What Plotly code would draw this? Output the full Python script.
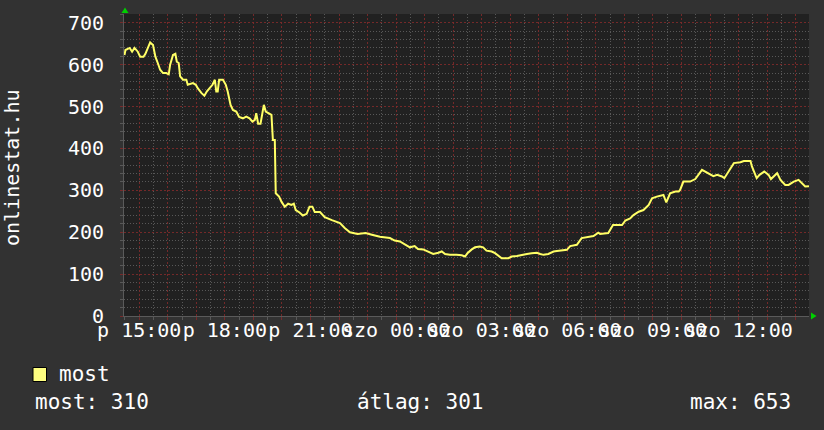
import plotly.graph_objects as go
import pandas as pd

# ---------------- data ----------------
start_time = "2011-03-04 14:28"   # Friday (p) 14:28
end_time = "2011-03-05 14:28"     # Saturday (szo) 14:28

# minutes after start_time
minutes = [1, 3, 12, 17, 22, 29, 34, 41, 45, 50, 55, 61, 66, 71, 76, 82, 89, 94, 97, 103,
           108, 111, 115, 118, 124, 131, 134, 145, 151, 155, 163, 169, 174, 180, 186, 191, 194, 197, 200, 208,
           214, 218, 224, 229, 236, 242, 250, 257, 264, 270, 275, 278, 282, 287, 291, 294, 298, 305, 310, 313,
           317, 319, 326, 331, 338, 345, 352, 357, 361, 369, 376, 384, 390, 396, 401, 412, 422, 437, 454, 464,
           475, 491, 508, 521, 533, 538, 559, 569, 580, 590, 601, 611, 618, 629, 640, 650, 661, 668, 675, 685,
           699, 710, 717, 722, 731, 738, 748, 755, 762, 773, 780, 787, 794, 808, 815, 826, 836, 847, 857, 868,
           875, 882, 892, 903, 910, 920, 931, 938, 952, 962, 973, 987, 997, 1001, 1018, 1028, 1047, 1054, 1064, 1071,
           1082, 1092, 1103, 1110, 1120, 1134, 1140, 1148, 1159, 1166, 1169, 1176, 1190, 1201, 1215, 1226, 1239, 1247, 1257, 1262,
           1271, 1282, 1296, 1303, 1317, 1320, 1330, 1336, 1346, 1355, 1360, 1367, 1373, 1380, 1390, 1397, 1408, 1418, 1425, 1432,
           1440]
most = [623, 635, 640, 631, 640, 631, 619, 619, 626, 640, 653, 647, 619, 604, 588, 580, 580, 577, 600, 623,
        626, 607, 604, 572, 564, 564, 552, 556, 552, 544, 532, 526, 536, 544, 552, 564, 536, 536, 564, 564,
        552, 536, 504, 492, 488, 475, 472, 476, 472, 464, 468, 484, 459, 459, 492, 504, 488, 484, 480, 420,
        420, 293, 285, 273, 261, 268, 265, 268, 253, 247, 240, 244, 261, 261, 248, 248, 236, 229, 222, 210,
        200, 196, 198, 194, 191, 189, 186, 180, 178, 172, 164, 167, 160, 159, 154, 148, 151, 154, 148, 146,
        146, 145, 142, 150, 159, 164, 166, 164, 156, 154, 150, 143, 138, 138, 142, 143, 146, 148, 150, 151,
        148, 146, 148, 154, 155, 156, 158, 167, 170, 186, 188, 191, 199, 196, 198, 217, 217, 228, 233, 241,
        249, 253, 265, 281, 285, 289, 271, 293, 297, 297, 301, 321, 321, 327, 349, 342, 334, 337, 333, 329,
        345, 365, 367, 370, 370, 357, 329, 337, 345, 337, 327, 334, 341, 325, 313, 313, 321, 325, 318, 309,
        310]

tick_times = ["2011-03-04 15:00", "2011-03-04 18:00", "2011-03-04 21:00", "2011-03-05 00:00",
              "2011-03-05 03:00", "2011-03-05 06:00", "2011-03-05 09:00", "2011-03-05 12:00"]
tick_labels = ["p 15:00", "p 18:00", "p 21:00", "szo 00:00",
               "szo 03:00", "szo 06:00", "szo 09:00", "szo 12:00"]
y_max = 721
y_title = "onlinestat.hu"
series_name = "most"
stat_texts = ["most: 310", "átlag: 301", "max: 653"]

times = pd.Timestamp(start_time) + pd.to_timedelta(minutes, unit="m")

# ---------------- layout constants ----------------
W, H = 824, 430
L, R, T, B = 124, 15, 14, 114
PW, PH = W - L - R, H - T - B
FONT = "DejaVu Sans Mono"
BG = "#323232"
CANVAS = "#212121"
MAJOR = "rgba(125,42,42,0.9)"
MINOR = "#585858"
LINE_COL = "#ffff66"


def px(x):
    return (x - L) / PW


def py(y):
    return (H - B - y) / PH


fig = go.Figure()
# dummy trace to keep the base (grid) axes alive
fig.add_trace(go.Scatter(x=[times[0]], y=[None], xaxis="x", yaxis="y",
                         showlegend=False, hoverinfo="skip", mode="lines"))
fig.add_trace(go.Scatter(x=times, y=most, name=series_name, xaxis="x2", yaxis="y",
                         mode="lines", line=dict(color=LINE_COL, width=2),
                         showlegend=False))

fig.update_layout(
    width=W, height=H,
    margin=dict(l=L, r=R, t=T, b=B, autoexpand=False),
    paper_bgcolor=BG, plot_bgcolor=CANVAS,
    font=dict(family=FONT, size=20, color="#ffffff"),
    xaxis=dict(type="date", range=[start_time, end_time], automargin=False,
               showgrid=True, gridcolor=MAJOR, griddash="2px,2px", gridwidth=1,
               tick0="2011-03-04 15:00", dtick=3600000,
               showticklabels=False, ticks="outside", ticklen=3, tickcolor=MAJOR,
               minor=dict(dtick=1800000, tick0="2011-03-04 14:30", showgrid=True,
                          gridcolor=MINOR, griddash="1px,2px", ticks="outside",
                          ticklen=3, tickcolor=MINOR),
               showline=True, linecolor="#5a5a5a", zeroline=False, fixedrange=True),
    xaxis2=dict(type="date", range=[start_time, end_time], overlaying="x", anchor="y",
                side="bottom", tickmode="array", tickvals=tick_times, ticktext=tick_labels,
                tickangle=0, showgrid=False, ticks="", showline=False, zeroline=False,
                automargin=False,
                tickfont=dict(family=FONT, size=20, color="#ffffff"),
                ticklabelstandoff=0),
    yaxis=dict(range=[0, y_max], tick0=0, dtick=100, automargin=False,
               showgrid=True, gridcolor=MAJOR, griddash="2px,2px", gridwidth=1,
               ticks="outside", ticklen=3, tickcolor=MAJOR,
               minor=dict(dtick=20, showgrid=True, gridcolor=MINOR, griddash="1px,2px",
                          ticks="outside", ticklen=3, tickcolor=MINOR),
               showline=True, linecolor="#5a5a5a", zeroline=False,
               tickfont=dict(family=FONT, size=20, color="#ffffff"),
               ticklabelstandoff=12),
)

# green axis arrows
fig.add_shape(type="path", xref="paper", yref="paper",
              path=f"M {px(121.5)},{py(13)} L {px(128.5)},{py(13)} L {px(125)},{py(7.5)} Z",
              fillcolor="#00d000", line=dict(width=0))
fig.add_shape(type="path", xref="paper", yref="paper",
              path=f"M {px(811)},{py(312.5)} L {px(811)},{py(319.5)} L {px(816.5)},{py(316)} Z",
              fillcolor="#00d000", line=dict(width=0))

# y title
fig.add_annotation(text=y_title, xref="paper", yref="paper", x=px(12), y=py(168),
                   textangle=-90, showarrow=False, xanchor="center", yanchor="middle",
                   font=dict(family=FONT, size=20, color="#ffffff"))

# legend
fig.add_shape(type="rect", xref="paper", yref="paper",
              x0=px(33), x1=px(46.5), y0=py(381.5), y1=py(367.5),
              fillcolor="#ffff80", line=dict(color="#000000", width=1))
fig.add_annotation(text=series_name, xref="paper", yref="paper", x=px(57), y=py(374),
                   showarrow=False, xanchor="left", yanchor="middle",
                   font=dict(family=FONT, size=21, color="#ffffff"))
for txt, xpos in zip(stat_texts, [33, 355, 688]):
    fig.add_annotation(text=txt, xref="paper", yref="paper", x=px(xpos), y=py(402),
                       showarrow=False, xanchor="left", yanchor="middle",
                       font=dict(family=FONT, size=21, color="#ffffff"))

fig.write_html("out.html",
               config={"displayModeBar": False, "staticPlot": True},
               post_script="document.body.style.margin='0';"
                           "document.body.style.padding='0';"
                           "document.body.style.background='#323232';")
